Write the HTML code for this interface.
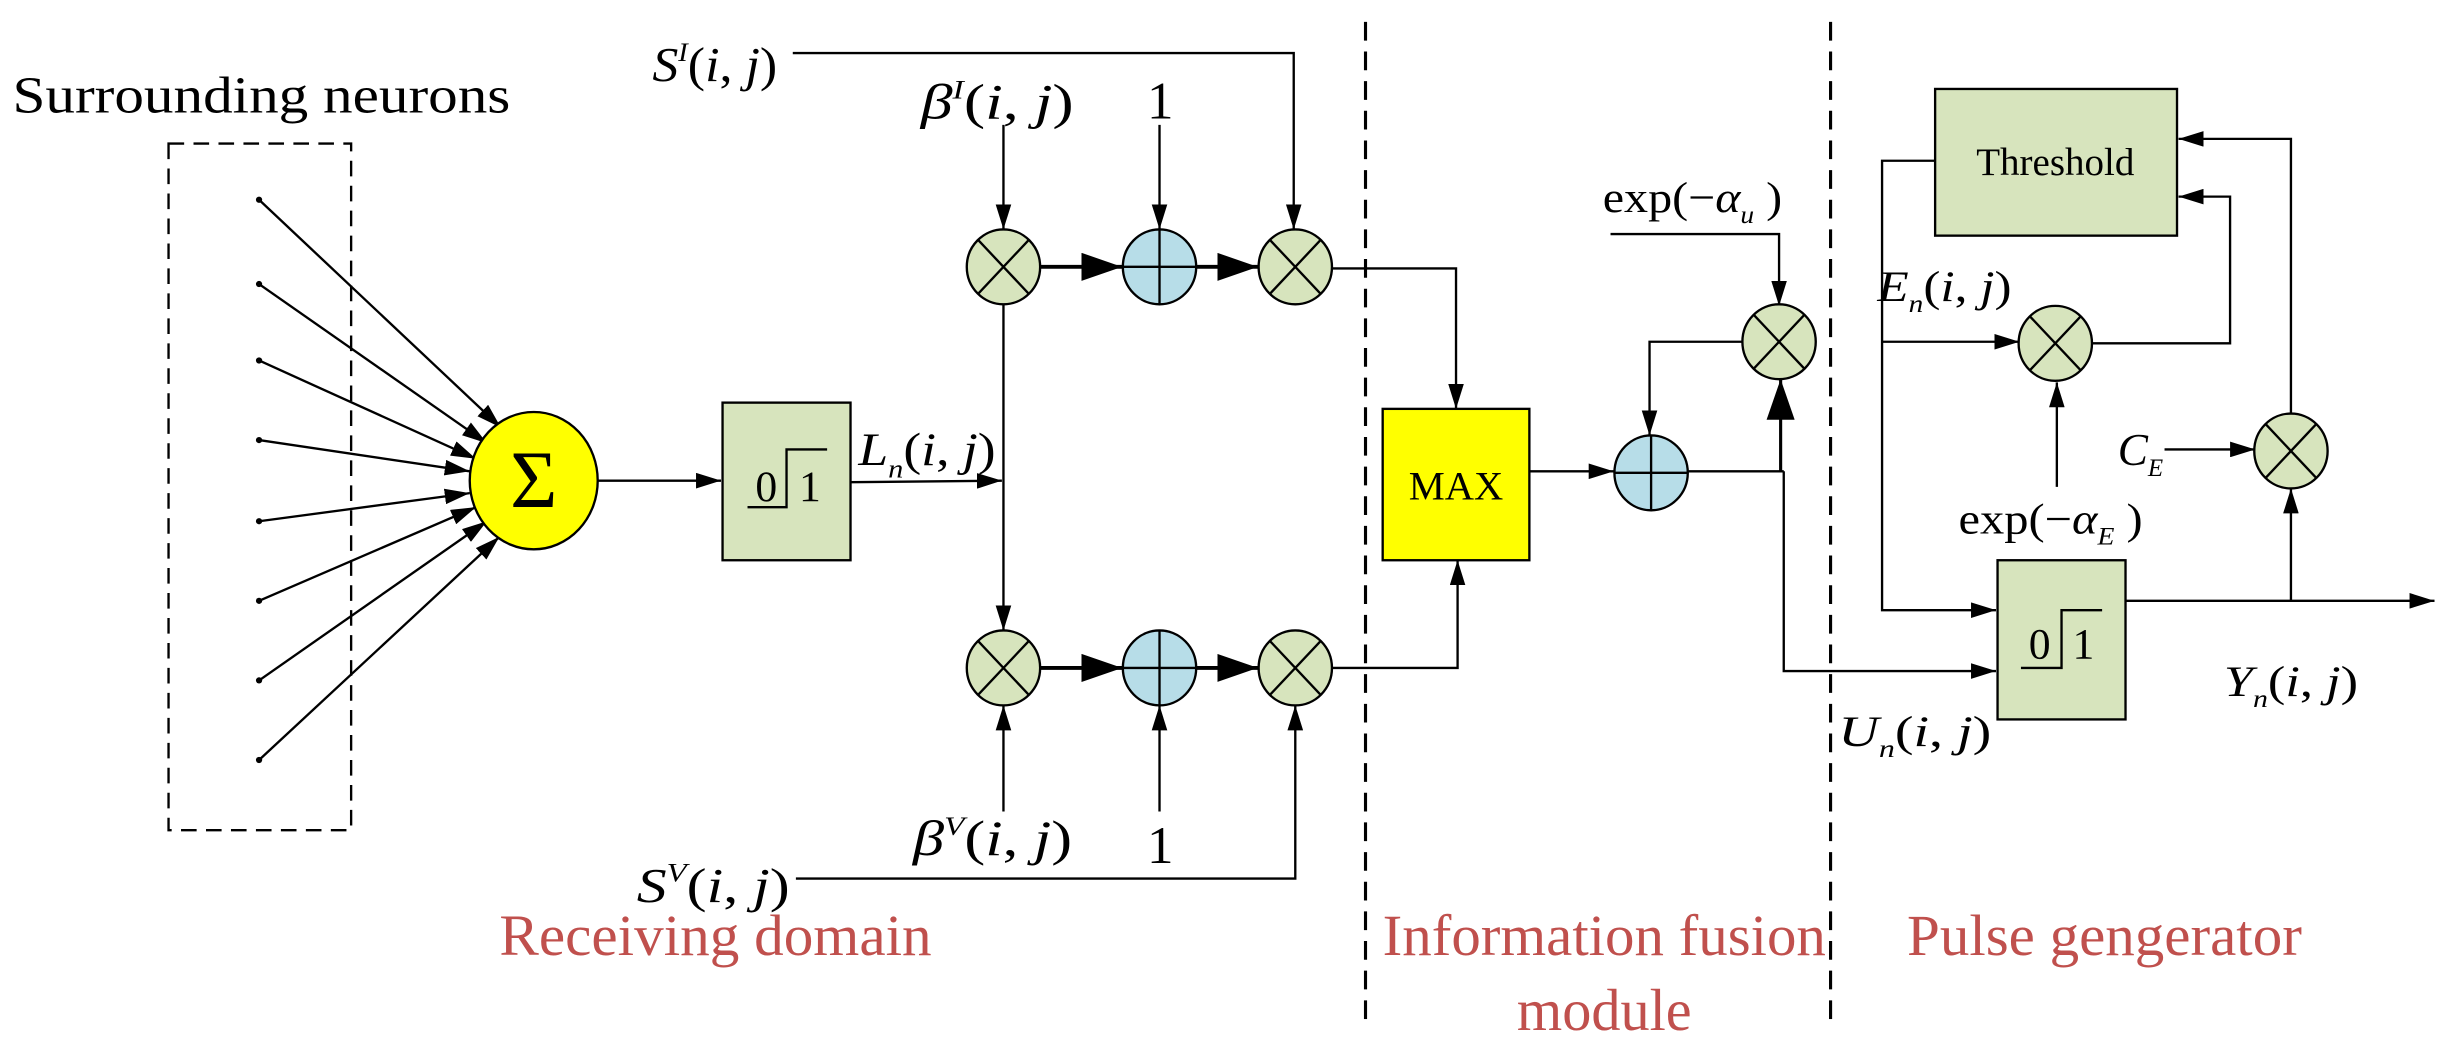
<!DOCTYPE html>
<html><head><meta charset="utf-8"><style>
html,body{margin:0;padding:0;background:#fff}
svg{display:block}
text{font-family:"Liberation Serif",serif;fill:#000}
.it{font-style:italic}
.red{fill:#c0504d}
</style></head><body>
<svg width="2447" height="1059" viewBox="0 0 1568 678.6" preserveAspectRatio="none" xmlns="http://www.w3.org/2000/svg">
<defs>
<marker id="a" markerWidth="16" markerHeight="10" refX="16" refY="5" orient="auto" markerUnits="userSpaceOnUse"><path d="M0,0 L16,5 L0,10 z" fill="#000"/></marker>
<marker id="b" markerWidth="26" markerHeight="18" refX="26" refY="9" orient="auto" markerUnits="userSpaceOnUse"><path d="M0,0 L26,9 L0,18 z" fill="#000"/></marker>
</defs>
<g stroke="#000" stroke-width="1.5" fill="none">
<rect x="108" y="92" width="117" height="440" stroke-dasharray="10,6"/>
<line x1="875" y1="14" x2="875" y2="655" stroke-dasharray="12,7" stroke-width="2"/>
<line x1="1173" y1="14" x2="1173" y2="655" stroke-dasharray="12,7" stroke-width="2"/>
<line x1="166" y1="128" x2="321" y2="274" marker-end="url(#a)"/>
<line x1="166" y1="182" x2="312" y2="284" marker-end="url(#a)"/>
<line x1="166" y1="231" x2="305" y2="294" marker-end="url(#a)"/>
<line x1="166" y1="282" x2="301" y2="302" marker-end="url(#a)"/>
<line x1="166" y1="334" x2="301" y2="316" marker-end="url(#a)"/>
<line x1="166" y1="385" x2="305" y2="325" marker-end="url(#a)"/>
<line x1="166" y1="436" x2="312" y2="334" marker-end="url(#a)"/>
<line x1="166" y1="487" x2="320" y2="344" marker-end="url(#a)"/>
<line x1="383" y1="308" x2="462" y2="308" marker-end="url(#a)"/>
<line x1="545" y1="309" x2="642" y2="308" marker-end="url(#a)"/>
<line x1="643" y1="195" x2="643" y2="404" marker-end="url(#a)"/>
<line x1="643" y1="80" x2="643" y2="147" marker-end="url(#a)"/>
<line x1="743" y1="80" x2="743" y2="147" marker-end="url(#a)"/>
<polyline points="508,34 829,34 829,147" marker-end="url(#a)"/>
<line x1="667" y1="171" x2="719" y2="171" stroke-width="2.5" marker-end="url(#b)"/>
<line x1="767" y1="171" x2="806" y2="171" stroke-width="2.5" marker-end="url(#b)"/>
<line x1="643" y1="520" x2="643" y2="452" marker-end="url(#a)"/>
<line x1="743" y1="520" x2="743" y2="452" marker-end="url(#a)"/>
<polyline points="510,563 830,563 830,452" marker-end="url(#a)"/>
<line x1="667" y1="428" x2="719" y2="428" stroke-width="2.5" marker-end="url(#b)"/>
<line x1="767" y1="428" x2="806" y2="428" stroke-width="2.5" marker-end="url(#b)"/>
<polyline points="853,172 933,172 933,262" marker-end="url(#a)"/>
<polyline points="853,428 934,428 934,359" marker-end="url(#a)"/>
<line x1="980" y1="302" x2="1034" y2="302" marker-end="url(#a)"/>
<line x1="1081" y1="302" x2="1143" y2="302"/>
<polyline points="1143,302 1143,430 1279,430" marker-end="url(#a)"/>
<line x1="1141" y1="302" x2="1141" y2="243" stroke-width="2" marker-end="url(#b)"/>
<polyline points="1032,150 1140,150 1140,196" marker-end="url(#a)"/>
<polyline points="1117,219 1057,219 1057,279" marker-end="url(#a)"/>
<polyline points="1240,103 1206,103 1206,391 1279,391" marker-end="url(#a)"/>
<line x1="1206" y1="219" x2="1294" y2="219" marker-end="url(#a)"/>
<polyline points="1340,220 1429,220 1429,126 1396,126" marker-end="url(#a)"/>
<line x1="1318" y1="312" x2="1318" y2="245" marker-end="url(#a)"/>
<line x1="1387" y1="288" x2="1445" y2="288" marker-end="url(#a)"/>
<polyline points="1468,265 1468,89 1396,89" marker-end="url(#a)"/>
<line x1="1362" y1="385" x2="1560" y2="385" marker-end="url(#a)"/>
<line x1="1468" y1="385" x2="1468" y2="313" marker-end="url(#a)"/>
</g>
<g fill="#000"><circle cx="166" cy="128" r="2"/><circle cx="166" cy="182" r="2"/><circle cx="166" cy="231" r="2"/><circle cx="166" cy="282" r="2"/><circle cx="166" cy="334" r="2"/><circle cx="166" cy="385" r="2"/><circle cx="166" cy="436" r="2"/><circle cx="166" cy="487" r="2"/></g>
<g stroke="#000" stroke-width="1.5">
<ellipse cx="342" cy="308" rx="41" ry="44" fill="#ffff00"/>
<rect x="463" y="258" width="82" height="101" fill="#d7e4bd"/>
<rect x="886" y="262" width="94" height="97" fill="#ffff00"/>
<rect x="1240" y="57" width="155" height="94" fill="#d7e4bd"/>
<rect x="1280" y="359" width="82" height="102" fill="#d7e4bd"/>
</g>
<g stroke="#000" stroke-width="1.5" fill="none">
<polyline points="479,325 504,325 504,288 530,288"/>
<polyline points="1295,428 1321,428 1321,391 1347,391"/>
</g>
<text x="342" y="325" font-size="52" text-anchor="middle">Σ</text>
<text x="491" y="321" font-size="28" text-anchor="middle">0</text>
<text x="519" y="321" font-size="28" text-anchor="middle">1</text>
<text x="1307" y="422" font-size="28" text-anchor="middle">0</text>
<text x="1335" y="422" font-size="28" text-anchor="middle">1</text>
<text x="933" y="320" font-size="26" text-anchor="middle">MAX</text>
<text x="1317" y="112" font-size="25" text-anchor="middle">Threshold</text>
<g stroke="#000" stroke-width="1.5">
<g fill="#d7e4bd">
<ellipse cx="643" cy="171" rx="23.5" ry="24"/><ellipse cx="643" cy="428" rx="23.5" ry="24"/>
<ellipse cx="830" cy="171" rx="23.5" ry="24"/><ellipse cx="830" cy="428" rx="23.5" ry="24"/>
<ellipse cx="1140" cy="219" rx="23.5" ry="24"/><ellipse cx="1317" cy="220" rx="23.5" ry="24"/>
<ellipse cx="1468" cy="289" rx="23.5" ry="24"/>
</g>
<g fill="#b7dde8">
<ellipse cx="743" cy="171" rx="23.5" ry="24"/><ellipse cx="743" cy="428" rx="23.5" ry="24"/>
<ellipse cx="1058" cy="303" rx="23.5" ry="24"/>
</g>
<g fill="none">
<path d="M627,154 L659,188 M659,154 L627,188"/><path d="M627,411 L659,445 M659,411 L627,445"/>
<path d="M814,154 L846,188 M846,154 L814,188"/><path d="M814,411 L846,445 M846,411 L814,445"/>
<path d="M1124,202 L1156,236 M1156,202 L1124,236"/><path d="M1301,203 L1333,237 M1333,203 L1301,237"/>
<path d="M1452,272 L1484,306 M1484,272 L1452,306"/>
<path d="M743,147 V195 M719.5,171 H766.5"/><path d="M743,404 V452 M719.5,428 H766.5"/>
<path d="M1058,279 V327 M1034.5,303 H1081.5"/>
</g>
</g>
<text x="8" y="72" font-size="33" textLength="319" lengthAdjust="spacingAndGlyphs">Surrounding neurons</text>
<text x="418" y="52" font-size="31" textLength="80" lengthAdjust="spacingAndGlyphs"><tspan class="it">S</tspan><tspan class="it" font-size="17" dy="-13">I</tspan><tspan dy="13">(</tspan><tspan class="it">i</tspan>, <tspan class="it">j</tspan>)</text>
<text x="590" y="76" font-size="32" textLength="98" lengthAdjust="spacingAndGlyphs"><tspan class="it">β</tspan><tspan class="it" font-size="17" dy="-13">I</tspan><tspan dy="13">(</tspan><tspan class="it">i</tspan>, <tspan class="it">j</tspan>)</text>
<text x="735" y="76" font-size="34">1</text>
<text x="550" y="298" font-size="30" textLength="88" lengthAdjust="spacingAndGlyphs"><tspan class="it">L</tspan><tspan class="it" font-size="17" dy="8">n</tspan><tspan dy="-8">(</tspan><tspan class="it">i</tspan>, <tspan class="it">j</tspan>)</text>
<text x="585" y="548" font-size="32" textLength="102" lengthAdjust="spacingAndGlyphs"><tspan class="it">β</tspan><tspan class="it" font-size="17" dy="-13">V</tspan><tspan dy="13">(</tspan><tspan class="it">i</tspan>, <tspan class="it">j</tspan>)</text>
<text x="735" y="553" font-size="34">1</text>
<text x="408" y="578" font-size="31" textLength="98" lengthAdjust="spacingAndGlyphs"><tspan class="it">S</tspan><tspan class="it" font-size="17" dy="-13">V</tspan><tspan dy="13">(</tspan><tspan class="it">i</tspan>, <tspan class="it">j</tspan>)</text>
<text x="1027" y="136" font-size="28" textLength="115" lengthAdjust="spacingAndGlyphs">exp(−<tspan class="it">α</tspan><tspan class="it" font-size="16" dy="7">u</tspan><tspan dy="-7"> )</tspan></text>
<text x="1203" y="193" font-size="28" textLength="86" lengthAdjust="spacingAndGlyphs"><tspan class="it">E</tspan><tspan class="it" font-size="16" dy="7">n</tspan><tspan dy="-7">(</tspan><tspan class="it">i</tspan>, <tspan class="it">j</tspan>)</text>
<text x="1357" y="298" font-size="29"><tspan class="it">C</tspan><tspan class="it" font-size="16" dy="7">E</tspan></text>
<text x="1255" y="342" font-size="28" textLength="118" lengthAdjust="spacingAndGlyphs">exp(−<tspan class="it">α</tspan><tspan class="it" font-size="16" dy="7">E</tspan><tspan dy="-7"> )</tspan></text>
<text x="1178" y="478" font-size="28" textLength="98" lengthAdjust="spacingAndGlyphs"><tspan class="it">U</tspan><tspan class="it" font-size="16" dy="7">n</tspan><tspan dy="-7">(</tspan><tspan class="it">i</tspan>, <tspan class="it">j</tspan>)</text>
<text x="1425" y="446" font-size="28" textLength="86" lengthAdjust="spacingAndGlyphs"><tspan class="it">Y</tspan><tspan class="it" font-size="16" dy="7">n</tspan><tspan dy="-7">(</tspan><tspan class="it">i</tspan>, <tspan class="it">j</tspan>)</text>
<text x="320" y="612" font-size="37" class="red" textLength="277" lengthAdjust="spacingAndGlyphs">Receiving domain</text>
<text x="886" y="612" font-size="37" class="red" textLength="284" lengthAdjust="spacingAndGlyphs">Information fusion</text>
<text x="972" y="660" font-size="38" class="red" textLength="112" lengthAdjust="spacingAndGlyphs">module</text>
<text x="1222" y="612" font-size="37" class="red" textLength="253" lengthAdjust="spacingAndGlyphs">Pulse gengerator</text>
</svg>
</body></html>
